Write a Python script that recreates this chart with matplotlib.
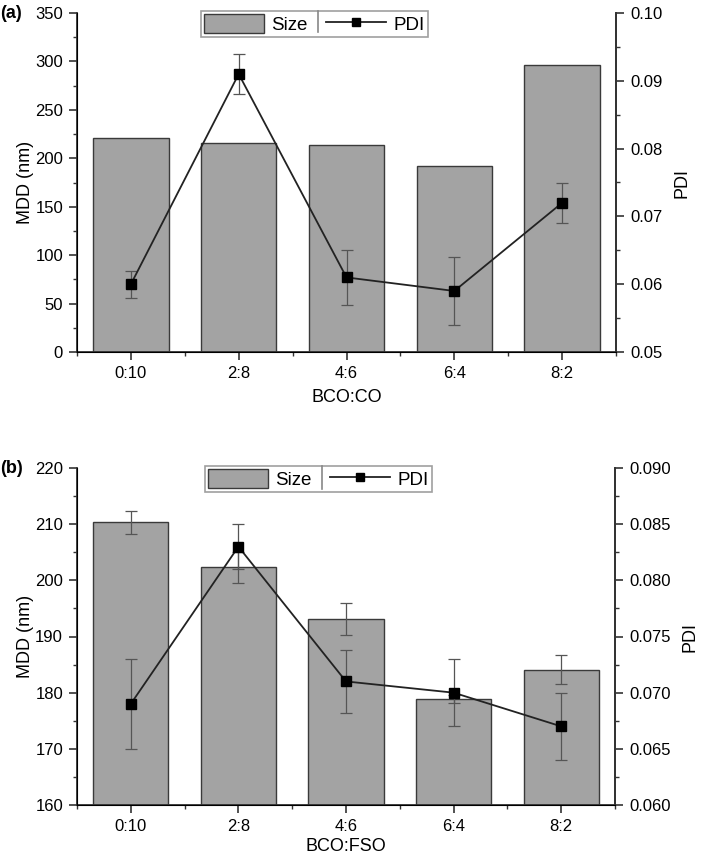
import matplotlib.pyplot as plt
from matplotlib.lines import Line2D
from matplotlib.patches import Patch
from matplotlib.ticker import MultipleLocator

plt.rcParams['font.family'] = ['Liberation Sans', 'DejaVu Sans']

# panel (a) BCO:CO
cats_a = ['0:10', '2:8', '4:6', '6:4', '8:2']
size_a = [221, 216, 214, 192, 296]
pdi_a = [0.060, 0.091, 0.061, 0.059, 0.072]
pdi_err_a = [0.002, 0.003, 0.004, 0.005, 0.003]

# panel (b) BCO:FSO
cats_b = ['0:10', '2:8', '4:6', '6:4', '8:2']
size_b = [210.3, 202.3, 193.1, 178.9, 184.1]
size_err_b = [2.1, 2.8, 2.8, 0.7, 2.6]
pdi_b = [0.069, 0.083, 0.071, 0.070, 0.067]
pdi_err_b = [0.004, 0.002, 0.0028, 0.003, 0.003]

BAR = '#a3a3a3'
EDGE = '#3a3a3a'
LINE = '#222222'

W, H = 709, 859
fig = plt.figure(figsize=(W / 100, H / 100), dpi=100)


def panel(rect, cats, size, size_err, pdi, pdi_err, ylim, ystep, y2lim, y2step,
          y2fmt, xlabel, tag, leg_box, xpad):
    ax = fig.add_axes(rect)
    x = list(range(len(cats)))
    ax.bar(x, size, width=0.7, color=BAR, edgecolor=EDGE, linewidth=1.0, zorder=2)
    if size_err is not None:
        ax.errorbar(x, size, yerr=size_err, fmt='none', ecolor='#555555',
                    elinewidth=0.9, capsize=4, capthick=0.9, zorder=3)
    ax.set_xlim(-0.5, len(cats) - 0.5)
    ax.set_ylim(*ylim)
    ax.set_xticks(x)
    ax.set_xticklabels(cats)
    ax.xaxis.set_minor_locator(MultipleLocator(0.5))
    ax.yaxis.set_major_locator(MultipleLocator(ystep))
    ax.yaxis.set_minor_locator(MultipleLocator(ystep / 2))
    ax.tick_params(which='major', direction='out', length=6, width=1.2, labelsize=12,
                   color='#333333', pad=4)
    ax.tick_params(which='minor', direction='out', length=3, width=1.0, color='#333333')
    ax.spines['top'].set_visible(False)
    for s in ['left', 'bottom', 'right']:
        ax.spines[s].set_linewidth(1.3)
        ax.spines[s].set_color('#333333')
    ax.set_ylabel('MDD (nm)', fontsize=13, labelpad=1)
    ax.set_xlabel(xlabel, fontsize=13, labelpad=xpad)

    ax2 = ax.twinx()
    ax2.errorbar(x, pdi, yerr=pdi_err, color=LINE, lw=1.3, marker='s', ms=7,
                 mfc='black', mec='black', ecolor='#555555', elinewidth=0.9,
                 capsize=4, capthick=0.9, zorder=4)
    ax2.set_ylim(*y2lim)
    ax2.yaxis.set_major_locator(MultipleLocator(y2step))
    ax2.yaxis.set_minor_locator(MultipleLocator(y2step / 2))
    ax2.yaxis.set_major_formatter(plt.FormatStrFormatter(y2fmt))
    ax2.tick_params(which='major', direction='out', length=6, width=1.2, labelsize=12,
                    color='#333333', pad=4)
    ax2.tick_params(which='minor', direction='out', length=3, width=1.0, color='#333333')
    ax2.spines['top'].set_visible(False)
    ax2.spines['right'].set_linewidth(1.3)
    ax2.spines['right'].set_color('#333333')
    ax2.set_ylabel('PDI', fontsize=13, labelpad=8)

    fig.text(0.0, rect[1] + rect[3], tag, fontsize=13, fontweight='bold',
             ha='left', va='center')

    handles = [Patch(facecolor=BAR, edgecolor=EDGE, linewidth=1.0),
               Line2D([], [], color=LINE, lw=1.3, marker='s', ms=6, mfc='black',
                      mec='black')]
    x0, y0, x1, y1 = leg_box
    leg = ax2.legend(handles, ['Size', 'PDI'], ncol=2, loc='upper left',
                     bbox_to_anchor=(x0 / W, 1 - y0 / H), bbox_transform=fig.transFigure,
                     frameon=True, fancybox=False, edgecolor='#888888', fontsize=13.5,
                     handlelength=3.2, handleheight=1.2, handletextpad=0.4,
                     columnspacing=1.0, borderpad=0.15, borderaxespad=0)
    leg.get_frame().set_linewidth(1.2)
    fig.add_artist(Line2D([x1 / W, x1 / W], [1 - y0 / H, 1 - y1 / H],
                          color='#888888', lw=1.2))
    return ax, ax2


panel([77 / W, 1 - 352 / H, 539 / W, 339 / H], cats_a, size_a, None, pdi_a, pdi_err_a,
      (0, 350), 50, (0.05, 0.10), 0.01, '%.2f', 'BCO:CO', '(a)', (201, 11, 318, 32), 6)
panel([77 / W, 1 - 805 / H, 538 / W, 337 / H], cats_b, size_b, size_err_b, pdi_b,
      pdi_err_b, (160, 220), 10, (0.060, 0.090), 0.005, '%.3f', 'BCO:FSO', '(b)',
      (205, 466, 322, 489), 3)

fig.savefig('out.png', dpi=100)
